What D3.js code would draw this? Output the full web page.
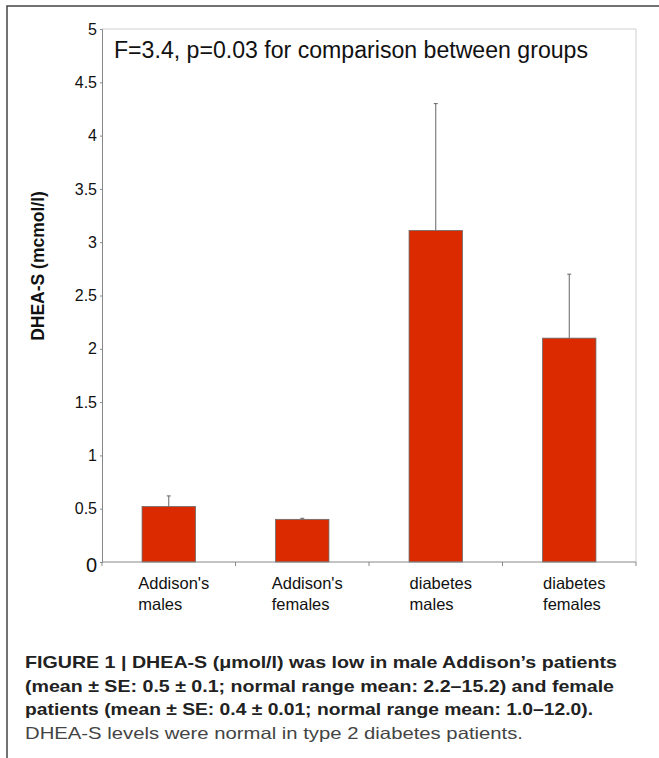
<!DOCTYPE html>
<html><head><meta charset="utf-8">
<script src="https://cdn.jsdelivr.net/npm/d3@7"></script>
<style>body{margin:0;background:#fff}svg{display:block}text{font-family:"Liberation Sans",Arial,sans-serif}</style>
</head><body>
<svg id="c" width="659" height="758"></svg>
<script>
const categories = [["Addison's","males"],["Addison's","females"],["diabetes","males"],["diabetes","females"]];
const means = [0.52, 0.40, 3.11, 2.10];
const errTops = [0.62, 0.41, 4.30, 2.70];
const yTicks = [0, 0.5, 1, 1.5, 2, 2.5, 3, 3.5, 4, 4.5, 5];
const yTickLabels = ["0","0.5","1","1.5","2","2.5","3","3.5","4","4.5","5"];
const annotation = "F=3.4, p=0.03 for comparison between groups";
const yTitle = "DHEA-S (mcmol/l)";
const captionBold = ["FIGURE 1 | DHEA-S (\u03bcmol/l) was low in male Addison\u2019s patients",
  "(mean \u00b1 SE: 0.5 \u00b1 0.1; normal range mean: 2.2\u201315.2) and female",
  "patients (mean \u00b1 SE: 0.4 \u00b1 0.01; normal range mean: 1.0\u201312.0)."];
const captionNormal = "DHEA-S levels were normal in type 2 diabetes patients.";

const svg = d3.select("#c");
const L = 102, R = 636, T = 29, B = 562;
const x = d3.scaleBand().domain(d3.range(categories.length)).range([L, R]).paddingInner(0.6).paddingOuter(0.3);
const xb = d3.scaleBand().domain(d3.range(categories.length)).range([L, R]);
const y = d3.scaleLinear().domain([0, 5]).range([B, T]);

// outer frame
svg.append("path").attr("d", `M7,758 V6 H659`).attr("fill","none").attr("stroke","#444").attr("stroke-width",1.5);

// plot border (top/right)
svg.append("path").attr("d", `M${L},${T} H${R} V${B}`).attr("fill","none").attr("stroke","#d0d0d0").attr("stroke-width",1);

// bars
svg.selectAll("rect.bar").data(means).join("rect").attr("class","bar")
  .attr("x",(d,i)=>x(i)).attr("width",x.bandwidth())
  .attr("y",d=>y(d)).attr("height",d=>y(0)-y(d))
  .attr("fill","#dc2a00").attr("stroke","#6a6a6a").attr("stroke-width",0.8);

// error bars
const eb = svg.selectAll("g.eb").data(means).join("g").attr("class","eb");
eb.append("line").attr("x1",(d,i)=>x(i)+x.bandwidth()/2).attr("x2",(d,i)=>x(i)+x.bandwidth()/2)
  .attr("y1",d=>y(d)).attr("y2",(d,i)=>y(errTops[i])).attr("stroke","#666").attr("stroke-width",1);
eb.append("line").attr("x1",(d,i)=>x(i)+x.bandwidth()/2-2).attr("x2",(d,i)=>x(i)+x.bandwidth()/2+2)
  .attr("y1",(d,i)=>y(errTops[i])).attr("y2",(d,i)=>y(errTops[i])).attr("stroke","#666").attr("stroke-width",1);

// y axis
const ya = svg.append("g").attr("transform",`translate(${L},0)`)
  .call(d3.axisLeft(y).tickValues(yTicks).tickFormat((d,i)=>yTickLabels[i]).tickSize(2).tickPadding(3));
ya.select(".domain").attr("stroke","#888");
ya.selectAll(".tick line").attr("stroke","#888");
ya.selectAll(".tick text").attr("fill","#111").style("font-size","16px").attr("font-family",null);
ya.selectAll(".tick text").filter(d=>d===0).style("font-size","20px").attr("dy","0.45em");

// x axis
svg.append("line").attr("x1",L).attr("x2",R).attr("y1",B).attr("y2",B).attr("stroke","#888");
svg.selectAll("line.xt").data(d3.range(categories.length+1)).join("line").attr("class","xt")
  .attr("x1",i=>L+i*xb.step()).attr("x2",i=>L+i*xb.step()).attr("y1",B).attr("y2",B+4).attr("stroke","#888");

// category labels: block centered, lines left-aligned
categories.forEach((lines,i)=>{
  const g = svg.append("g");
  const ts = lines.map((s,k)=>g.append("text").attr("y",589+k*21).style("font-size","16.5px").attr("fill","#111").text(s));
  const w = d3.max(ts,t=>t.node().getComputedTextLength());
  const cx = xb(i)+xb.bandwidth()/2;
  ts.forEach(t=>t.attr("x",cx-w/2+5));
});

// annotation
svg.append("text").attr("x",114).attr("y",58).style("font-size","23px").attr("fill","#111")
  .attr("textLength",474).attr("lengthAdjust","spacingAndGlyphs").text(annotation);

// y title
svg.append("text").attr("transform","translate(44,266) rotate(-90)").attr("text-anchor","middle")
  .style("font-size","17.5px").style("font-weight","bold").attr("fill","#111").text(yTitle);

// caption
const capEnds = [617, 614, 593];
captionBold.forEach((s,k)=>{
  svg.append("text").attr("x",25).attr("y",668+k*23.5).style("font-size","17px").style("font-weight","bold")
    .attr("fill","#222").attr("textLength",capEnds[k]-25).attr("lengthAdjust","spacingAndGlyphs").text(s);
});
svg.append("text").attr("x",25).attr("y",739).style("font-size","16.5px").attr("fill","#444")
  .attr("textLength",523-25).attr("lengthAdjust","spacingAndGlyphs").text(captionNormal);
</script>
</body></html>
